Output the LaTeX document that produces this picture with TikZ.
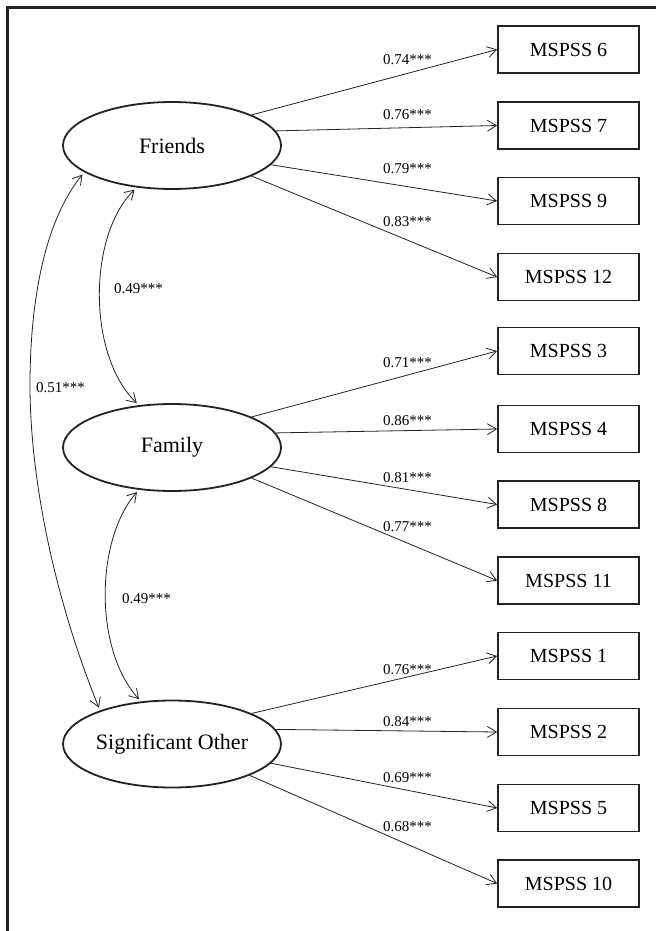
\documentclass[tikz,border=0pt]{standalone}
\usepackage{fontspec}
\setmainfont{Liberation Serif}
\usetikzlibrary{shapes.geometric,arrows.meta}
\definecolor{ink}{HTML}{222222}
\tikzset{
  latent/.style={ellipse, draw=ink, line width=1.8pt, minimum width=218pt, minimum height=87pt, inner sep=0pt, label={[font=\fontsize{22}{24}\selectfont]center:#1}},
  indicator/.style={rectangle, draw=ink, line width=1.8pt, minimum width=141pt, minimum height=47pt, inner sep=0pt, font=\fontsize{20}{22}\selectfont},
  load/.style={draw=ink, line width=0.8pt, -{Straight Barb[length=9pt,width=11pt,line width=0.8pt]}},
  corr/.style={draw=ink, line width=0.8pt, {Straight Barb[length=9pt,width=11pt,line width=0.8pt]}-{Straight Barb[length=9pt,width=11pt,line width=0.8pt]}},
  coef/.style={anchor=base west, inner sep=0pt, font=\fontsize{15}{17}\selectfont},
  frame/.style={draw=ink, line width=2.6pt}
}
\begin{document}
\begin{tikzpicture}[x=1pt,y=-1pt]
\useasboundingbox (0,0) rectangle (656,931);
\draw[frame] (7.5,931) -- (7.5,7.5) -- (656,7.5);

% latent factors
\node[latent=Friends] (F) at (172,145.5) {};
\node[latent=Family] (Fa) at (172,447.5) {};
\node[latent=Significant Other] (SO) at (172,744) {};

% indicators
\node[indicator] (m6) at (568.5,49.5) {MSPSS 6};
\node[indicator] (m7) at (568.5,125.5) {MSPSS 7};
\node[indicator] (m9) at (568.5,201) {MSPSS 9};
\node[indicator] (m12) at (568.5,277) {MSPSS 12};
\node[indicator] (m3) at (568.5,351) {MSPSS 3};
\node[indicator] (m4) at (568.5,429) {MSPSS 4};
\node[indicator] (m8) at (568.5,504.5) {MSPSS 8};
\node[indicator] (m11) at (568.5,580.5) {MSPSS 11};
\node[indicator] (m1) at (568.5,656) {MSPSS 1};
\node[indicator] (m2) at (568.5,732) {MSPSS 2};
\node[indicator] (m5) at (568.5,808) {MSPSS 5};
\node[indicator] (m10) at (568.5,883.5) {MSPSS 10};

% loadings
\draw[load] (F.21.5) -- (m6.west);
\draw[load] (F.8) -- (m7.west);
\draw[load] (F.-11) -- (m9.west);
\draw[load] (F.-21.5) -- (m12.west);
\draw[load] (Fa.21.5) -- (m3.west);
\draw[load] (Fa.8.5) -- (m4.west);
\draw[load] (Fa.-11) -- (m8.west);
\draw[load] (Fa.-21) -- (m11.west);
\draw[load] (SO.21.5) -- (m1.west);
\draw[load] (SO.8.5) -- (m2.west);
\draw[load] (SO.-11) -- (m5.west);
\draw[load] (SO.-22.5) -- (m10.west);

\node[coef] (l6) at (383,65) {0.74***};
\node[coef] (l7) at (383,120) {0.76***};
\node[coef] (l9) at (383,173) {0.79***};
\node[coef] (l12) at (383,226) {0.83***};
\node[coef] (l3) at (383,367) {0.71***};
\node[coef] (l4) at (383,425) {0.86***};
\node[coef] (l8) at (383,482) {0.81***};
\node[coef] (l11) at (383,531) {0.77***};
\node[coef] (l1) at (383,674) {0.76***};
\node[coef] (l2) at (383,726) {0.84***};
\node[coef] (l5) at (383,782) {0.69***};
\node[coef] (l10) at (383,831) {0.68***};

% correlations
\draw[corr, shorten <=3pt, shorten >=3pt] (F.230) .. controls (88,235) and (87,355) .. (Fa.128);
\draw[corr, shorten <=3pt, shorten >=3pt] (Fa.232) .. controls (95,540) and (94,650) .. (SO.126);
\draw[corr, shorten <=3pt, shorten >=3pt] (F.197) .. controls (45,220) and (30,300) .. (30,385) .. controls (30,480) and (55,600) .. (SO.155);

\node[coef] (c1) at (114,293) {0.49***};
\node[coef] (c2) at (36,392) {0.51***};
\node[coef] (c3) at (122,603) {0.49***};
\end{tikzpicture}
\end{document}
